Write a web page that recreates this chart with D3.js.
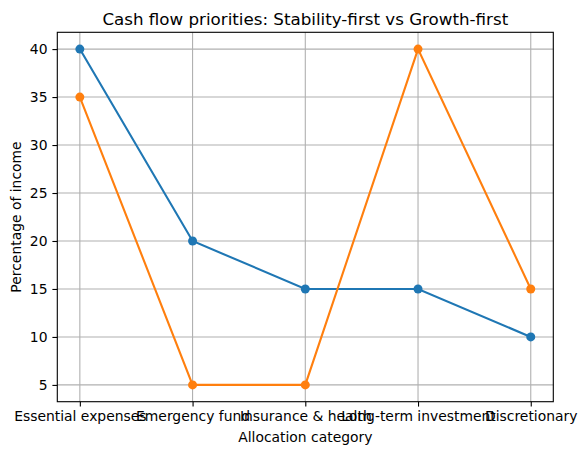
<!DOCTYPE html>
<html>
<head>
<meta charset="utf-8">
<script src="https://cdn.jsdelivr.net/npm/d3@7"></script>
<style>
  body { margin: 0; background: #fff; }
  text { font-family: "DejaVu Sans", sans-serif; fill: #000; }
</style>
</head>
<body>
<div id="chart"></div>
<script>
// chart data
const categories = ['Essential expenses', 'Emergency fund', 'Insurance & health', 'Long-term investment', 'Discretionary'];
const stabilityFirst = [40, 20, 15, 15, 10];
const growthFirst = [35, 5, 5, 40, 15];
const yTicks = [5, 10, 15, 20, 25, 30, 35, 40];

const W = 586, H = 455;
const margin = { top: 32.3, right: 32.7, bottom: 53.3, left: 57.3 };
const width = W - margin.left - margin.right;
const height = H - margin.top - margin.bottom;

const svg = d3.select('#chart').append('svg')
    .attr('width', W)
    .attr('height', H);

const g = svg.append('g')
    .attr('transform', `translate(${margin.left},${margin.top})`);

const xScale = d3.scaleLinear()
    .domain([-0.2, categories.length - 1 + 0.2])
    .range([0, width]);

const allVals = stabilityFirst.concat(growthFirst);
const yMin = d3.min(allVals), yMax = d3.max(allVals);
const pad = (yMax - yMin) * 0.05;
const yScale = d3.scaleLinear()
    .domain([yMin - pad, yMax + pad])
    .range([height, 0]);

// grid
g.append('g')
    .selectAll('line')
    .data(categories.map((c, i) => i))
    .enter().append('line')
    .attr('x1', d => xScale(d)).attr('x2', d => xScale(d))
    .attr('y1', 0).attr('y2', height)
    .attr('stroke', '#b0b0b0').attr('stroke-width', 1.1);

g.append('g')
    .selectAll('line')
    .data(yTicks)
    .enter().append('line')
    .attr('x1', 0).attr('x2', width)
    .attr('y1', d => yScale(d)).attr('y2', d => yScale(d))
    .attr('stroke', '#b0b0b0').attr('stroke-width', 1.1);

// axes
const xAxis = d3.axisBottom(xScale)
    .tickValues(categories.map((c, i) => i))
    .tickFormat(i => categories[i])
    .tickSize(4.9).tickPadding(4.9);
const yAxis = d3.axisLeft(yScale)
    .tickValues(yTicks)
    .tickSize(4.9).tickPadding(4.9);

const xg = g.append('g').attr('transform', `translate(0,${height})`).call(xAxis);
const yg = g.append('g').call(yAxis);
[xg, yg].forEach(a => {
    a.select('.domain').remove();
    a.selectAll('line').attr('stroke', '#000').attr('stroke-width', 1.1);
    a.selectAll('text').style('font-size', '13.9px').style('font-family', '"DejaVu Sans", sans-serif').attr('fill', '#000');
});

// frame
g.append('rect')
    .attr('x', 0).attr('y', 0)
    .attr('width', width).attr('height', height)
    .attr('fill', 'none').attr('stroke', '#000').attr('stroke-width', 1.1);

// series
const series = [
    { values: stabilityFirst, color: '#1f77b4' },
    { values: growthFirst, color: '#ff7f0e' }
];
const line = d3.line()
    .x((d, i) => xScale(i))
    .y(d => yScale(d));

series.forEach(s => {
    g.append('path')
        .datum(s.values)
        .attr('d', line)
        .attr('fill', 'none')
        .attr('stroke', s.color)
        .attr('stroke-width', 2.1);
    g.append('g')
        .selectAll('circle')
        .data(s.values)
        .enter().append('circle')
        .attr('cx', (d, i) => xScale(i))
        .attr('cy', d => yScale(d))
        .attr('r', 4.5)
        .attr('fill', s.color);
});

// labels
svg.append('text')
    .attr('x', margin.left + width / 2)
    .attr('y', 24.5)
    .attr('text-anchor', 'middle')
    .style('font-size', '16.7px')
    .text('Cash flow priorities: Stability-first vs Growth-first');

svg.append('text')
    .attr('x', margin.left + width / 2)
    .attr('y', 441.5)
    .attr('text-anchor', 'middle')
    .style('font-size', '13.9px')
    .text('Allocation category');

svg.append('text')
    .attr('transform', `translate(21,${margin.top + height / 2}) rotate(-90)`)
    .attr('text-anchor', 'middle')
    .style('font-size', '13.9px')
    .text('Percentage of income');
</script>
</body>
</html>
